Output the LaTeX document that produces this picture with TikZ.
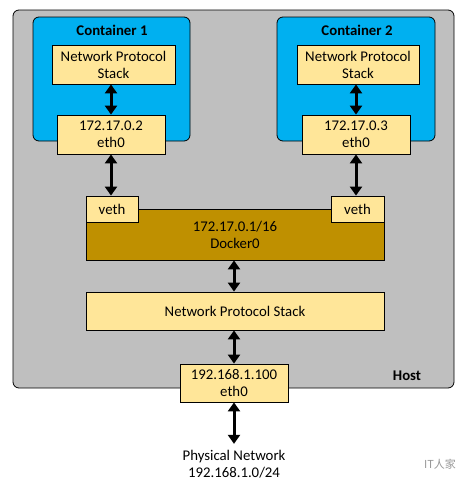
\documentclass[tikz,border=0pt]{standalone}
\usepackage{fontspec}
\setmainfont{Carlito}
\newfontfamily\cjkfont{Noto Sans CJK SC}
\usetikzlibrary{arrows.meta,positioning}
\definecolor{hostgray}{RGB}{191,191,191}
\definecolor{ctblue}{RGB}{0,176,240}
\definecolor{boxyellow}{RGB}{255,230,153}
\definecolor{dockgold}{RGB}{191,144,0}
\definecolor{markgray}{RGB}{150,150,150}

\tikzset{
  txt/.style={font=\fontsize{14.8}{17}\selectfont, align=center},
  ybox/.style={txt, draw=black, line width=0.8pt, fill=boxyellow, inner sep=0pt},
  areabox/.style={draw=black, line width=0.8pt, rounded corners=6pt, inner sep=0pt},
  link/.style={{Triangle[width=12pt,length=9pt]}-{Triangle[width=12pt,length=9pt]}, line width=3pt},
}

\begin{document}
\begin{tikzpicture}[x=1pt,y=-1pt]
\useasboundingbox (0,0) rectangle (473,485);
% Host
\node[areabox, fill=hostgray, minimum width=441pt, minimum height=378pt] (host) at (233.5,199) {};
\node[txt, font=\fontsize{14.8}{17}\selectfont\bfseries] (hostlbl) at (407,376) {Host};
% Containers
\node[areabox, fill=ctblue, minimum width=157pt, minimum height=124pt] (cont1) at (111.5,79) {};
\node[areabox, fill=ctblue, minimum width=158pt, minimum height=124pt] (cont2) at (356,79) {};
\node[txt, font=\fontsize{14.8}{17}\selectfont\bfseries] (c1lbl) at (112,30) {Container 1};
\node[txt, font=\fontsize{14.8}{17}\selectfont\bfseries] (c2lbl) at (357,30) {Container 2};
\node[ybox, minimum width=123pt, minimum height=39pt] (nps1) at (113.5,64.5) {Network Protocol\\Stack};
\node[ybox, minimum width=122pt, minimum height=39pt] (nps2) at (358,64.5) {Network Protocol\\Stack};
\node[ybox, minimum width=108pt, minimum height=39pt] (eth1) at (111,134.5) {172.17.0.2\\eth0};
\node[ybox, minimum width=108pt, minimum height=39pt] (eth2) at (356,134.5) {172.17.0.3\\eth0};
% Docker0 bridge
\node[ybox, fill=dockgold, minimum width=298pt, minimum height=51pt] (docker) at (235,234.5) {172.17.0.1/16\\Docker0};
\node[ybox, minimum width=52pt, minimum height=26pt] (veth1) at (112,209) {veth};
\node[ybox, minimum width=53pt, minimum height=26pt] (veth2) at (357.5,209) {veth};
% Host stack and eth0
\node[ybox, minimum width=298pt, minimum height=38pt] (hnps) at (235,311) {Network Protocol Stack};
\node[ybox, minimum width=108pt, minimum height=38pt] (heth) at (234,383) {192.168.1.100\\eth0};
\node[txt, inner sep=0pt] (phys) at (234,464) {Physical Network\\192.168.1.0/24};
\node[font=\fontsize{11}{13}\cjkfont, text=markgray] (mark) at (440,464) {IT人家};
% Links
\draw[link] (nps1.south -| eth1.north) -- (eth1.north);
\draw[link] (nps2.south -| eth2.north) -- (eth2.north);
\draw[link] (eth1.south) -- (eth1.south |- veth1.north);
\draw[link] (eth2.south) -- (eth2.south |- veth2.north);
\draw[link] (docker.south -| heth.north) -- (hnps.north -| heth.north);
\draw[link] (hnps.south -| heth.north) -- (heth.north);
\draw[link] (heth.south) -- ([yshift=6pt]phys.north);
\end{tikzpicture}
\end{document}
